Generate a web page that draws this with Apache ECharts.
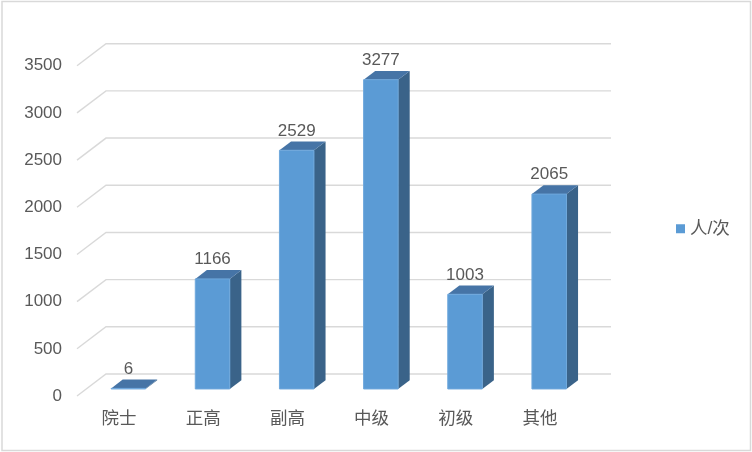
<!DOCTYPE html>
<html>
<head>
<meta charset="utf-8">
<script src="https://cdn.jsdelivr.net/npm/echarts@6/dist/echarts.min.js"></script>
<style>
  html, body { margin: 0; padding: 0; background: #fff; }
  #chart { width: 752px; height: 452px; }
</style>
</head>
<body>
<div id="chart"></div>
<script>
// Staff counts by title level
const categories = ['院士', '正高', '副高', '中级', '初级', '其他'];
const counts = [6, 1166, 2529, 3277, 1003, 2065];
const seriesName = '人/次';
const yTicks = [0, 500, 1000, 1500, 2000, 2500, 3000, 3500];

// Oblique projection of the depth axis (front plane -> back wall), in pixels
const DEPTH_X = 29;
const DEPTH_Y = -22;
// Where each bar sits along the depth axis (0 = front, 1 = back)
const BAR_Z0 = 0.32;
const BAR_Z1 = 0.72;
// Bar width as a fraction of one category band
const BAR_W = 0.41;

const FONT = '"Liberation Sans", "Noto Sans CJK SC", sans-serif';
const TEXT_COLOR = '#595959';
const GRID_COLOR = '#d9d9d9';
const FRONT_COLOR = '#5b9bd5';
const TOP_COLOR = '#4674a6';
const SIDE_COLOR = '#3a6389';

const chart = echarts.init(document.getElementById('chart'), null, { renderer: 'canvas' });

// Gridlines: a short diagonal on the left wall, then across the back wall
function renderGridLine(params, api) {
  const cs = params.coordSys;
  const y = api.coord([0, api.value(1)])[1];
  const left = cs.x;
  const right = cs.x + cs.width;
  return {
    type: 'polyline',
    shape: {
      points: [
        [left, y],
        [left + DEPTH_X, y + DEPTH_Y],
        [right + DEPTH_X, y + DEPTH_Y]
      ]
    },
    style: { stroke: GRID_COLOR, lineWidth: 1.4, fill: null },
    silent: true
  };
}

// A 3D box per category: front face, top face, right side face and value label
function renderBar(params, api) {
  const idx = api.value(0);
  const val = api.value(1);
  const base = api.coord([idx, 0]);
  const top = api.coord([idx, val]);
  const band = api.size([1, 0])[0];
  const w = band * BAR_W;

  const cx = base[0] + DEPTH_X * BAR_Z0;
  const fb = base[1] + DEPTH_Y * BAR_Z0;
  const ft = top[1] + DEPTH_Y * BAR_Z0;
  const dx = DEPTH_X * (BAR_Z1 - BAR_Z0);
  const dy = DEPTH_Y * (BAR_Z1 - BAR_Z0);
  const x0 = cx - w / 2;
  const x1 = cx + w / 2;

  return {
    type: 'group',
    children: [
      {
        type: 'polygon',
        shape: { points: [[x1, ft], [x1 + dx, ft + dy], [x1 + dx, fb + dy], [x1, fb]] },
        style: { fill: SIDE_COLOR }
      },
      {
        type: 'polygon',
        shape: { points: [[x0, ft], [x0 + dx, ft + dy], [x1 + dx, ft + dy], [x1, ft]] },
        style: { fill: TOP_COLOR }
      },
      {
        type: 'rect',
        shape: { x: x0, y: ft, width: w, height: Math.max(fb - ft, 0) },
        style: { fill: FRONT_COLOR, stroke: '#6fa8dc', lineWidth: 1 }
      },
      {
        type: 'text',
        style: {
          text: String(val),
          x: cx,
          y: ft + dy - 2,
          align: 'center',
          verticalAlign: 'bottom',
          fill: TEXT_COLOR,
          font: '17px ' + FONT
        }
      }
    ]
  };
}

chart.setOption({
  animation: false,
  backgroundColor: '#ffffff',
  graphic: [{
    type: 'rect',
    shape: { x: 2, y: 1.5, width: 748.5, height: 449 },
    style: { fill: null, stroke: '#d9d9d9', lineWidth: 1.5 },
    silent: true,
    z: 100
  }],
  legend: {
    data: [{ name: seriesName, icon: 'rect' }],
    left: 671,
    top: 215,
    itemWidth: 9,
    itemHeight: 9,
    itemGap: 10,
    textStyle: { color: TEXT_COLOR, fontSize: 17.5, fontFamily: FONT }
  },
  grid: { left: 77, right: 170, top: 65.7, bottom: 56, containLabel: false },
  xAxis: {
    type: 'category',
    data: categories,
    axisLine: { show: false },
    axisTick: { show: false },
    splitLine: { show: false },
    axisLabel: { color: TEXT_COLOR, fontSize: 17.5, fontFamily: FONT, margin: 14 }
  },
  yAxis: {
    type: 'value',
    min: yTicks[0],
    max: yTicks[yTicks.length - 1],
    interval: yTicks[1] - yTicks[0],
    axisLine: { show: false },
    axisTick: { show: false },
    splitLine: { show: false },
    axisLabel: {
      color: TEXT_COLOR,
      fontSize: 17,
      fontFamily: FONT,
      margin: 15,
      formatter: v => String(v)
    }
  },
  series: [
    {
      name: 'grid',
      type: 'custom',
      renderItem: renderGridLine,
      data: yTicks.map(v => [0, v]),
      silent: true,
      z: 1
    },
    {
      name: seriesName,
      type: 'custom',
      renderItem: renderBar,
      itemStyle: { color: FRONT_COLOR },
      data: counts.map((v, i) => [i, v]),
      z: 2
    }
  ]
});
</script>
</body>
</html>
